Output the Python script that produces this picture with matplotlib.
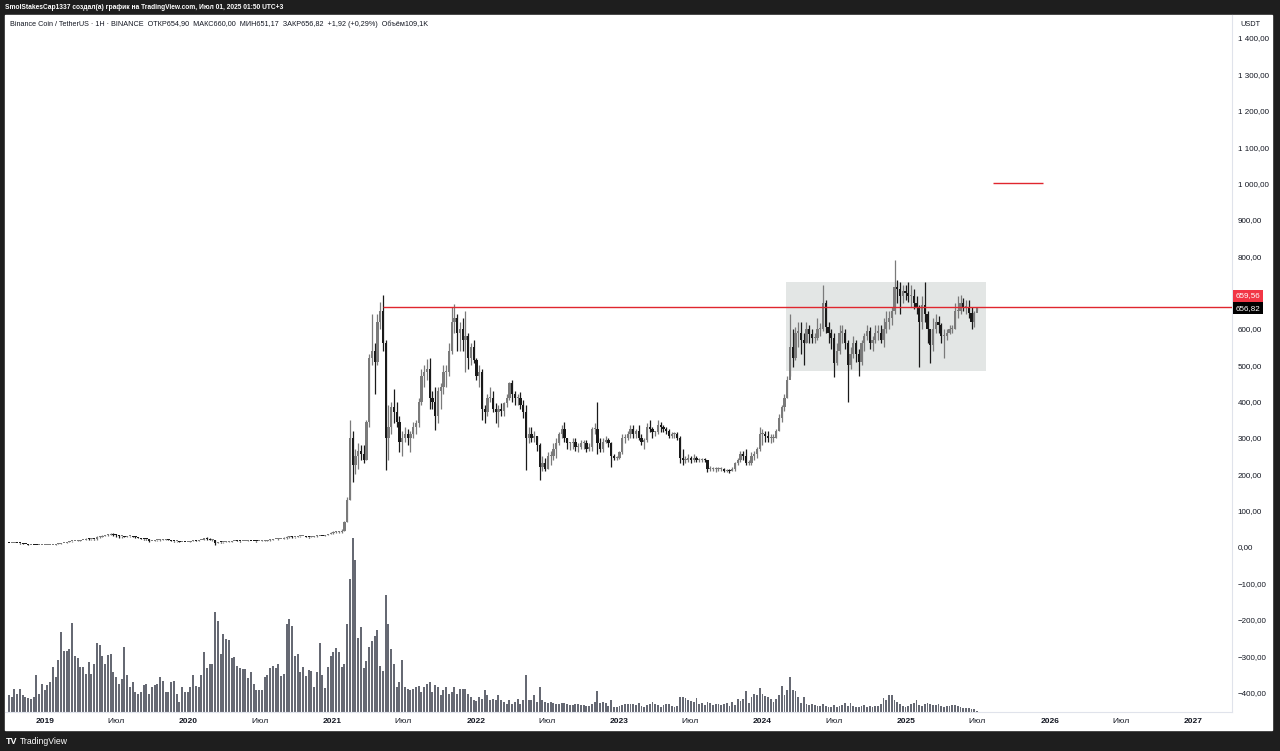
import matplotlib
matplotlib.use("Agg")
import matplotlib.pyplot as plt
import matplotlib.dates as mdates
from matplotlib.patches import Rectangle
import pandas as pd

plt.rcParams['font.family'] = ['Liberation Sans', 'DejaVu Sans']

# weekly BNB/USDT candles, first week 2018-10-01
close = [
    10.1, 10.2, 10.4, 10.1, 9.8,  9.0, 7.4, 5.6, 5.8,  5.0, 4.7, 5.9, 5.9, 6.1,  # 2018 oct-dec
    6.2, 6.3, 6.3, 7.2,  9.6, 10.5, 10.8, 12.9,  15.5, 15.6, 16.4, 17.5,  19.0, 20.0, 23.0, 21.5, 22.0,
    21.0, 28.0, 28.5, 31.0,  32.5, 33.0, 37.0, 33.0,  32.0, 30.0, 30.0, 28.0, 29.0,  29.0, 28.0, 27.0, 24.0,
    22.5, 21.5, 21.0, 16.0, 16.5,  18.0, 18.0, 20.0, 20.0,  20.5, 19.0, 16.0, 15.5,  15.5, 14.0, 14.0, 13.5, 13.8,  # 2019
    15.5, 17.5, 17.0, 18.5,  20.0, 23.5, 23.0, 18.5,  19.5, 11.5, 13.0, 12.5, 13.5,  15.0, 15.0, 15.5, 17.0,
    16.5, 16.0, 16.3, 17.0,  17.5, 17.0, 16.5, 15.5, 16.0,  17.5, 17.5, 18.0, 19.5,  21.5, 22.0, 22.0, 22.5, 26.0,
    27.0, 28.0, 26.5, 28.0,  29.0, 30.0, 30.0, 28.5,  27.5, 28.5, 29.5, 30.0, 30.5,  30.0, 32.5, 36.5, 37.5,  # 2020
    41, 41, 41, 45,  70, 130, 300, 225,  250, 265, 255, 240, 345,  520, 540, 510, 620,
    650, 560, 300, 330, 385,  370, 345, 290, 300,  310, 300, 310, 330,  340, 400, 470, 480, 490,
    410, 400, 360, 430,  440, 480, 480, 540,  620, 630, 590, 600, 570,  580, 520, 550, 515,  # 2021
    470, 480, 380, 370, 410,  410, 380, 370, 380,  375, 395, 410, 450,  420, 410, 410, 390,
    370, 300, 310, 300, 305,  280, 220, 230, 215,  250, 250, 270, 285,  310, 325, 300, 285, 285,
    290, 275, 275, 285,  285, 270, 275, 325, 325,  285, 270, 290, 295,  285, 250, 245, 245,  # 2022
    260, 300, 300, 310, 325,  310, 320, 300, 290,  295, 330, 325, 315,  315, 335, 330, 325,
    320, 305, 310, 310, 300,  245, 240, 240, 245,  240, 245, 240, 240, 240,  238, 215, 215, 215,
    215, 215, 215, 210,  212, 210, 215, 230, 240,  255, 250, 230, 230,  250, 255, 270, 310,  # 2023
    310, 305, 300, 300, 300,  320, 355, 385, 410,  460, 550, 520, 590,  590, 570, 560, 600, 585,
    575, 575, 600, 600,  670, 605, 590, 575,  505, 540, 590, 590, 560,  500, 530, 560, 530,
    510, 560, 580, 595, 560,  570, 590, 590, 570,  600, 620, 630, 650,  715, 710, 690, 705, 700,  # 2024
    690, 690, 670, 660,  620, 665, 640, 600,  555, 600, 620, 610, 580,  580, 590, 600, 600,
    650, 650, 670, 660,  660, 645, 620, 645, 656.82,  # 2025
]
high = [
    10.6, 10.5, 10.9, 10.5, 10.2,  10.1, 9.2, 7.6, 6.4,  5.9, 5.1, 6.2, 6.3, 6.5,
    6.6, 6.6, 6.5, 7.4,  9.9, 10.8, 11.5, 13.5,  16.0, 16.4, 17.0, 18.0,  20.0, 20.5, 24.5, 24.0, 22.8,
    23.0, 30.0, 31.0, 33.0,  34.0, 34.5, 39.5, 39.0,  35.0, 33.0, 31.5, 30.5, 30.0,  30.5, 30.0, 29.0, 27.5,
    24.5, 23.0, 22.0, 21.5, 17.0,  18.5, 18.8, 21.0, 22.0,  21.0, 21.0, 19.5, 16.5,  16.0, 15.8, 14.5, 14.0, 14.0,
    16.0, 18.0, 18.0, 19.0,  20.5, 24.0, 27.0, 23.5,  21.0, 19.8, 14.0, 13.5, 14.0,  16.0, 16.0, 16.0, 17.5,
    18.0, 17.0, 17.0, 17.5,  18.0, 17.8, 17.5, 16.8, 16.3,  18.2, 18.5, 18.5, 21.0,  22.5, 23.0, 23.5, 23.0, 27.0,
    31.0, 30.0, 29.5, 28.5,  30.0, 31.5, 31.0, 31.0,  28.5, 29.0, 31.0, 34.0, 31.0,  31.0, 33.0, 37.0, 40.0,
    44, 45, 44, 50,  72, 137, 348, 320,  270, 285, 280, 280, 350,  530, 640, 560, 640,
    675, 692, 570, 390, 400,  435, 400, 360, 320,  330, 325, 320, 345,  350, 410, 490, 500, 518,
    520, 430, 440, 440,  450, 500, 500, 560,  660, 669, 640, 620, 630,  650, 590, 560, 570,
    520, 500, 490, 390, 420,  440, 430, 395, 390,  395, 400, 420, 455,  460, 430, 420, 425,
    405, 390, 330, 330, 320,  305, 285, 250, 245,  260, 265, 285, 300,  315, 335, 345, 300, 290,
    300, 300, 285, 295,  295, 295, 285, 330, 340,  398, 300, 300, 305,  300, 290, 255, 250,
    265, 310, 310, 320, 335,  335, 325, 335, 310,  300, 340, 350, 330,  320, 350, 345, 335,
    330, 325, 315, 315, 315,  305, 270, 250, 255,  250, 255, 250, 245, 245,  245, 240, 222, 220,
    220, 220, 220, 218,  215, 215, 220, 235, 245,  265, 265, 270, 240,  260, 265, 275, 330,
    325, 320, 320, 310, 310,  325, 365, 390, 420,  470, 640, 600, 605,  620, 620, 590, 620, 610,
    600, 590, 630, 615,  720, 680, 620, 600,  590, 560, 610, 610, 600,  570, 550, 580, 570,
    545, 570, 590, 610, 605,  580, 610, 610, 610,  630, 650, 650, 660,  790, 735, 730, 720, 720,
    730, 720, 710, 690,  665, 690, 730, 650,  600, 630, 640, 635, 615,  600, 600, 610, 610,
    670, 690, 693, 685,  680, 680, 660, 650, 660,
]
low = [
    9.8, 9.7, 10.0, 9.9, 9.5,  8.9, 7.0, 5.2, 5.2,  4.7, 4.2, 4.6, 5.6, 5.8,
    5.9, 6.0, 6.0, 6.2,  7.0, 9.2, 10.0, 10.2,  12.5, 14.5, 15.2, 15.8,  17.2, 18.5, 19.8, 19.5, 20.5,
    19.5, 20.5, 25.0, 27.5,  30.0, 30.5, 32.5, 29.0,  28.5, 25.0, 26.0, 26.5, 26.5,  27.0, 26.5, 25.5, 23.5,
    21.5, 20.5, 20.0, 15.0, 15.5,  16.0, 17.0, 17.5, 19.0,  19.5, 18.5, 15.5, 14.5,  15.0, 13.8, 12.5, 13.0, 13.3,
    13.5, 15.3, 16.5, 16.8,  18.0, 19.8, 20.5, 18.0,  17.5, 6.4, 10.5, 11.0, 12.0,  13.2, 14.3, 14.8, 15.3,
    15.5, 14.5, 15.8, 16.0,  16.8, 16.3, 15.5, 15.0, 15.3,  15.8, 17.0, 17.3, 17.8,  19.5, 21.0, 20.5, 21.0, 22.0,
    22.0, 26.0, 24.0, 26.0,  27.5, 28.5, 29.0, 27.5,  26.0, 27.0, 28.0, 27.0, 29.5,  29.0, 29.5, 32.0, 35.0,
    37, 38, 38.5, 39,  44, 68, 128, 180,  200, 215, 240, 230, 240,  330, 500, 420, 500,
    600, 540, 211, 240, 310,  340, 330, 260, 250,  290, 280, 260, 300,  310, 330, 390, 440, 460,
    380, 380, 322, 340,  380, 420, 440, 470,  530, 590, 540, 540, 540,  480, 490, 500, 505,
    460, 440, 350, 340, 360,  400, 370, 340, 330,  360, 360, 385, 405,  400, 390, 390, 380,
    355, 211, 285, 290, 290,  265, 183, 210, 210,  215, 225, 240, 245,  280, 300, 290, 270, 268,
    270, 265, 260, 270,  270, 260, 265, 265, 310,  255, 260, 260, 285,  275, 220, 240, 240,
    243, 255, 285, 295, 300,  300, 300, 295, 280,  270, 290, 315, 300,  305, 310, 315, 315,
    310, 300, 300, 300, 295,  230, 225, 230, 235,  230, 235, 235, 235, 235,  235, 205, 210, 210,
    205, 210, 210, 205,  205, 203, 208, 210, 225,  235, 240, 225, 225,  225, 240, 245, 265,
    280, 290, 290, 285, 290,  300, 320, 345, 375,  410, 470, 495, 515,  550, 530, 500, 560, 560,
    560, 560, 570, 580,  595, 590, 560, 545,  468, 500, 530, 560, 545,  400, 490, 520, 510,
    470, 500, 540, 570, 545,  540, 560, 570, 560,  550, 590, 600, 610,  640, 670, 640, 670, 680,
    675, 660, 655, 640,  495, 600, 620, 560,  505, 540, 590, 590, 560,  520, 570, 585, 590,
    600, 630, 640, 650,  640, 630, 600, 605, 651,
]
volume = [
    17, 15, 23, 18, 23, 17, 15, 14, 13, 15,
    37, 18, 28, 22, 27, 30, 45, 35, 52, 80,
    61, 61, 63, 89, 56, 54, 45, 45, 38, 50,
    38, 48, 69, 67, 56, 48, 57, 58, 40, 35,
    28, 33, 65, 37, 25, 30, 20, 18, 20, 27,
    28, 18, 25, 27, 28, 35, 31, 20, 20, 30,
    31, 18, 10, 25, 20, 20, 25, 37, 26, 25,
    37, 60, 44, 48, 48, 100, 91, 58, 78, 73,
    72, 54, 55, 46, 44, 43, 43, 34, 40, 28,
    22, 22, 22, 35, 37, 44, 46, 44, 48, 36,
    38, 88, 93, 86, 56, 58, 40, 45, 36, 42,
    41, 25, 40, 69, 37, 24, 45, 56, 60, 64,
    60, 45, 48, 88, 133, 174, 152, 74, 85, 44,
    51, 65, 71, 76, 82, 46, 41, 117, 88, 63,
    48, 25, 30, 52, 25, 23, 22, 23, 25, 26,
    20, 25, 28, 30, 20, 27, 25, 17, 22, 25,
    18, 20, 25, 18, 23, 23, 23, 18, 15, 12,
    11, 15, 13, 22, 17, 12, 13, 12, 17, 12,
    10, 8, 12, 8, 10, 13, 8, 12, 37, 12,
    12, 17, 10, 25, 12, 10, 9, 10, 9, 8,
    8, 9, 9, 8, 7, 7, 8, 8, 7, 7,
    6, 6, 8, 10, 21, 9, 10, 9, 6, 12,
    5, 5, 6, 7, 8, 8, 8, 8, 7, 9,
    6, 5, 7, 8, 10, 8, 7, 5, 7, 8,
    8, 6, 5, 6, 15, 15, 14, 12, 11, 10,
    14, 8, 9, 7, 10, 9, 7, 8, 8, 7,
    8, 9, 6, 10, 7, 13, 11, 13, 21, 9,
    15, 18, 17, 24, 18, 16, 15, 13, 10, 13,
    17, 26, 17, 22, 35, 22, 21, 15, 9, 15,
    8, 7, 8, 7, 6, 6, 8, 6, 5, 5,
    7, 5, 6, 7, 9, 6, 9, 6, 5, 5,
    6, 7, 5, 6, 5, 6, 6, 8, 14, 12,
    17, 17, 12, 10, 8, 6, 5, 6, 8, 9,
    12, 7, 6, 8, 9, 8, 7, 7, 8, 6,
    5, 6, 6, 7, 7, 6, 5, 4, 4, 4,
    3, 3, 1,
]
n = min(len(close), len(high), len(low), len(volume))
close, high, low, volume = close[:n], high[:n], low[:n], volume[:n]

weeks = pd.date_range("2018-10-01", periods=n, freq="7D")
opn = [10.2] + close[:-1]

line_level = 659.56
last_price = 656.82
box_start, box_end, box_low, box_high = "2024-03-01", "2025-07-22", 484, 729
target_start, target_end, target_level = "2025-08-10", "2025-12-14", 1000

W, H = 1280, 751
def rect(x0, y0, x1, y1):
    return [x0 / W, 1 - y1 / H, (x1 - x0) / W, (y1 - y0) / H]

fig = plt.figure(figsize=(12.8, 7.51), dpi=100, facecolor="#1e1e1e")
fig.patches.append(Rectangle((5 / W, 1 - 730 / H), 1267 / W, 715 / H,
                             transform=fig.transFigure, color="white", zorder=-5))

vax = fig.add_axes(rect(5, 15, 1232, 712))
ax = fig.add_axes(rect(5, 15, 1232, 712), sharex=vax)
ax.patch.set_alpha(0)
vax.set_facecolor("white")

x = mdates.date2num(weeks)
vax.bar(x, volume, width=5.0, color="#666973", linewidth=0)
vax.set_ylim(0, max(volume) * 4.0)
vax.set_yticks([])
vax.tick_params(axis="x", length=0, labelbottom=False)
for s in vax.spines.values():
    s.set_visible(False)

ax.add_patch(Rectangle((mdates.datestr2num(box_start), box_low),
                       mdates.datestr2num(box_end) - mdates.datestr2num(box_start),
                       box_high - box_low, color="#e3e6e5", zorder=0.5, linewidth=0))

up = "#7a7a7a"
down = "#1a1a1a"
cols = [up if c >= o else down for o, c in zip(opn, close)]
bottoms = [min(o, c) for o, c in zip(opn, close)]
heights = [max(abs(c - o), 2.8) for o, c in zip(opn, close)]
ax.vlines(x, low, high, colors=cols, linewidth=0.9, zorder=2)
ax.bar(x, heights, bottom=bottoms, width=5.6, color=cols, linewidth=0, zorder=3)

ax.hlines(line_level, mdates.datestr2num("2021-05-10"), mdates.datestr2num("2027-12-31"),
          color="#e0262e", linewidth=1, zorder=4)
ax.hlines(target_level, mdates.datestr2num(target_start), mdates.datestr2num(target_end),
          color="#e0262e", linewidth=1, zorder=4)

ax.set_xlim(mdates.datestr2num("2018-09-21"), mdates.datestr2num("2027-04-10"))
ax.set_ylim(-453.8, 1463.3)

def price_fmt(v, pos=None):
    s = f"{abs(v):,.2f}".replace(",", " ").replace(".", ",")
    return ("\u2212" + s) if v < 0 else s

ax.yaxis.tick_right()
ax.set_yticks(range(-400, 1500, 100))
ax.yaxis.set_major_formatter(plt.FuncFormatter(price_fmt))
ax.tick_params(axis="y", length=0, pad=4, labelsize=5.8, labelcolor="#131722")

tick_dates, tick_labels = [], []
for yr in range(2019, 2028):
    tick_dates.append(mdates.datestr2num(f"{yr}-01-01"))
    tick_labels.append(str(yr))
    if yr < 2027:
        tick_dates.append(mdates.datestr2num(f"{yr}-07-01"))
        tick_labels.append("Июл")
ax.set_xticks(tick_dates)
ax.set_xticklabels(tick_labels)
ax.tick_params(axis="x", length=0, pad=4, labelsize=6.0, labelcolor="#131722")
for lab in ax.get_xticklabels():
    if lab.get_text() != "Июл":
        lab.set_fontweight("bold")

for name, s in ax.spines.items():
    s.set_visible(name in ("right", "bottom"))
    s.set_color("#e0e3eb")
    s.set_linewidth(0.8)

ax.annotate(price_fmt(line_level), xy=(1, last_price), xycoords=ax.get_yaxis_transform(),
            xytext=(2.5, 9), textcoords="offset points", fontsize=5.8, color="white",
            va="center", ha="left", zorder=10, annotation_clip=False,
            bbox=dict(boxstyle="square,pad=0.3", fc="#f23645", ec="none"))
ax.annotate(price_fmt(last_price), xy=(1, last_price), xycoords=ax.get_yaxis_transform(),
            xytext=(2.5, 0), textcoords="offset points", fontsize=5.8, color="white",
            va="center", ha="left", zorder=10, annotation_clip=False,
            bbox=dict(boxstyle="square,pad=0.3", fc="#000000", ec="none"))

fig.text(1240 / W, 1 - 25 / H, "USDT", fontsize=5.3, color="#131722", va="center")
fig.text(10 / W, 1 - 24 / H,
         "Binance Coin / TetherUS · 1H · BINANCE  ОТКР654,90  МАКС660,00  МИН651,17  "
         "ЗАКР656,82  +1,92 (+0,29%)  Объём109,1K",
         fontsize=5.2, color="#131722", va="center")
fig.text(5 / W, 1 - 7.5 / H,
         "SmolStakesCap1337 создал(а) график на TradingView.com, Июл 01, 2025 01:50 UTC+3",
         fontsize=4.8, color="white", va="center", fontweight="bold")
fig.text(6 / W, 1 - 741 / H, "TV", fontsize=6.5, color="white", va="center",
         fontweight="bold")
fig.text(20 / W, 1 - 741 / H, "TradingView", fontsize=6.2, color="white", va="center")

fig.savefig("out.png", dpi=100, facecolor=fig.get_facecolor())
